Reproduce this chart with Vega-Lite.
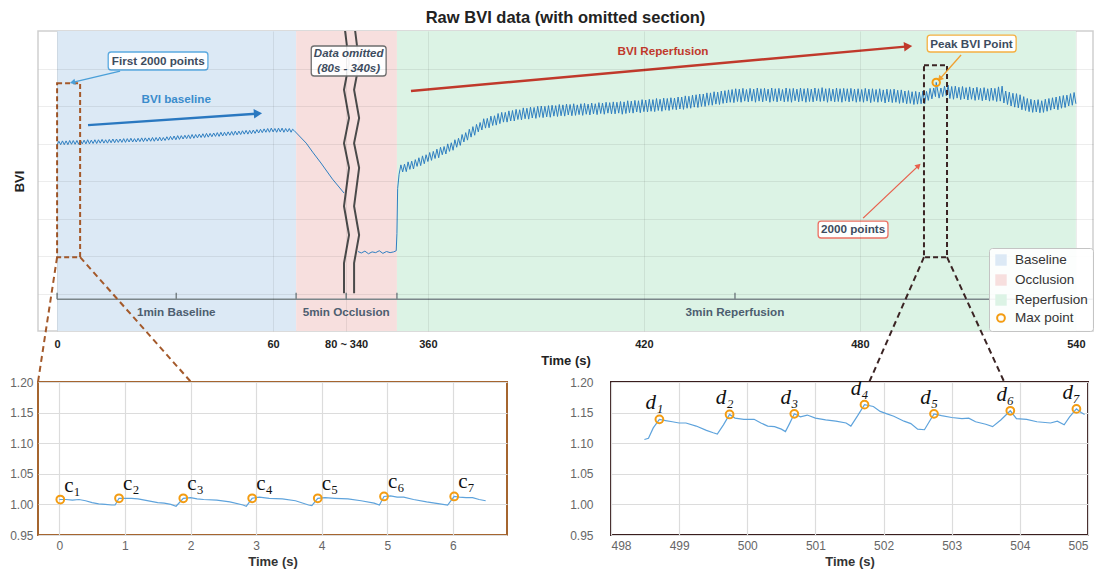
{
"$schema": "https://vega.github.io/schema/vega-lite/v6.json",
"padding": {"left": 8, "top": 8, "right": 4, "bottom": 2},
"config": {"font": "Liberation Sans", "view": {"stroke": null}},
"bounds": "flush",
"spacing": 51,
"resolve": {"scale": {"color": "independent", "stroke": "independent"}, "legend": {"color": "independent", "stroke": "independent"}},
"datasets": {
"regions": [{"cat":"Baseline","t":0,"t2":66.4},{"cat":"Occlusion","t":66.4,"t2":94.4},{"cat":"Reperfusion","t":94.4,"t2":283}],
"innerTicks": [{"t":0},{"t":33.1},{"t":66.4},{"t":80.3},{"t":94.4},{"t":188.3}],
"innerLabels": [{"t":33.1,"label":"1min Baseline"},{"t":80.3,"label":"5min Occlusion"},{"t":188.3,"label":"3min Reperfusion"}],
"segA": [
{"t":0,"v":0.996},{"t":0.5,"v":1.006},{"t":1,"v":0.997},{"t":1.5,"v":1.007},{"t":2,"v":0.997},{"t":2.5,"v":1.007},{"t":3,"v":0.997},{"t":3.5,"v":1.008},{"t":4,"v":0.998},{"t":4.5,"v":1.008},
{"t":5,"v":0.998},{"t":5.5,"v":1.008},{"t":6,"v":0.998},{"t":6.5,"v":1.009},{"t":7,"v":0.999},{"t":7.5,"v":1.009},{"t":8,"v":0.999},{"t":8.5,"v":1.010},{"t":9,"v":0.999},{"t":9.5,"v":1.009},
{"t":10,"v":1.000},{"t":10.5,"v":1.010},{"t":11,"v":1.000},{"t":11.5,"v":1.010},{"t":12,"v":1.001},{"t":12.5,"v":1.011},{"t":13,"v":1.001},{"t":13.5,"v":1.010},{"t":14,"v":1.001},{"t":14.5,"v":1.011},
{"t":15,"v":1.002},{"t":15.5,"v":1.012},{"t":16,"v":1.002},{"t":16.5,"v":1.012},{"t":17,"v":1.003},{"t":17.5,"v":1.012},{"t":18,"v":1.003},{"t":18.5,"v":1.013},{"t":19,"v":1.003},{"t":19.5,"v":1.013},
{"t":20,"v":1.004},{"t":20.5,"v":1.014},{"t":21,"v":1.004},{"t":21.5,"v":1.013},{"t":22,"v":1.004},{"t":22.5,"v":1.014},{"t":23,"v":1.005},{"t":23.5,"v":1.015},{"t":24,"v":1.005},{"t":24.5,"v":1.015},
{"t":25,"v":1.006},{"t":25.5,"v":1.015},{"t":26,"v":1.006},{"t":26.5,"v":1.016},{"t":27,"v":1.006},{"t":27.5,"v":1.016},{"t":28,"v":1.007},{"t":28.5,"v":1.017},{"t":29,"v":1.007},{"t":29.5,"v":1.016},
{"t":30,"v":1.008},{"t":30.5,"v":1.018},{"t":31,"v":1.009},{"t":31.5,"v":1.019},{"t":32,"v":1.010},{"t":32.5,"v":1.020},{"t":33,"v":1.010},{"t":33.5,"v":1.021},{"t":34,"v":1.011},{"t":34.5,"v":1.021},
{"t":35,"v":1.012},{"t":35.5,"v":1.022},{"t":36,"v":1.013},{"t":36.5,"v":1.023},{"t":37,"v":1.013},{"t":37.5,"v":1.024},{"t":38,"v":1.014},{"t":38.5,"v":1.024},{"t":39,"v":1.015},{"t":39.5,"v":1.025},
{"t":40,"v":1.016},{"t":40.5,"v":1.026},{"t":41,"v":1.016},{"t":41.5,"v":1.027},{"t":42,"v":1.017},{"t":42.5,"v":1.027},{"t":43,"v":1.018},{"t":43.5,"v":1.028},{"t":44,"v":1.019},{"t":44.5,"v":1.029},
{"t":45,"v":1.019},{"t":45.5,"v":1.030},{"t":46,"v":1.020},{"t":46.5,"v":1.030},{"t":47,"v":1.021},{"t":47.5,"v":1.031},{"t":48,"v":1.022},{"t":48.5,"v":1.032},{"t":49,"v":1.022},{"t":49.5,"v":1.033},
{"t":50,"v":1.023},{"t":50.5,"v":1.033},{"t":51,"v":1.024},{"t":51.5,"v":1.034},{"t":52,"v":1.025},{"t":52.5,"v":1.035},{"t":53,"v":1.025},{"t":53.5,"v":1.035},{"t":54,"v":1.026},{"t":54.5,"v":1.036},
{"t":55,"v":1.027},{"t":55.5,"v":1.037},{"t":56,"v":1.028},{"t":56.5,"v":1.038},{"t":57,"v":1.029},{"t":57.5,"v":1.039},{"t":58,"v":1.030},{"t":58.5,"v":1.040},{"t":59,"v":1.030},{"t":59.5,"v":1.041},
{"t":60,"v":1.031},{"t":60.5,"v":1.040},{"t":61,"v":1.030},{"t":61.5,"v":1.041},{"t":62,"v":1.031},{"t":62.5,"v":1.041},{"t":63,"v":1.030},{"t":63.5,"v":1.040},{"t":64,"v":1.031},{"t":64.5,"v":1.040},
{"t":65,"v":1.030},{"t":65.4,"v":1.038},{"t":65.8,"v":1.035},{"t":69.2,"v":1.001},{"t":71,"v":0.977},{"t":73.3,"v":0.948},{"t":76.5,"v":0.905},{"t":79.7,"v":0.868}
],
"segB": [
{"t":83.6,"v":0.712},{"t":84.5,"v":0.708},{"t":85.5,"v":0.713},{"t":86.5,"v":0.706},{"t":87.5,"v":0.711},{"t":88.5,"v":0.709},{"t":89.5,"v":0.714},{"t":90.5,"v":0.707},{"t":91.5,"v":0.712},{"t":92.5,"v":0.709},{"t":93.5,"v":0.711},{"t":94.2,"v":0.714},{"t":94.4,"v":0.76},{"t":94.6,"v":0.88},
{"t":95,"v":0.918},{"t":95.5,"v":0.943},{"t":96,"v":0.924},{"t":96.5,"v":0.945},{"t":97,"v":0.925},{"t":97.5,"v":0.951},{"t":98,"v":0.931},{"t":98.5,"v":0.953},{"t":99,"v":0.932},{"t":99.5,"v":0.957},
{"t":100,"v":0.939},{"t":100.5,"v":0.962},{"t":101,"v":0.941},{"t":101.5,"v":0.967},{"t":102,"v":0.946},{"t":102.5,"v":0.970},{"t":103,"v":0.952},{"t":103.5,"v":0.976},{"t":104,"v":0.955},{"t":104.5,"v":0.979},
{"t":105,"v":0.960},{"t":105.5,"v":0.985},{"t":106,"v":0.962},{"t":106.5,"v":0.990},{"t":107,"v":0.970},{"t":107.5,"v":0.992},{"t":108,"v":0.972},{"t":108.5,"v":0.999},{"t":109,"v":0.979},{"t":109.5,"v":1.002},
{"t":110,"v":0.982},{"t":110.5,"v":1.010},{"t":111,"v":0.990},{"t":111.5,"v":1.014},{"t":112,"v":0.995},{"t":112.5,"v":1.024},{"t":113,"v":1.004},{"t":113.5,"v":1.029},{"t":114,"v":1.009},{"t":114.5,"v":1.038},
{"t":115,"v":1.017},{"t":115.5,"v":1.045},{"t":116,"v":1.022},{"t":116.5,"v":1.051},{"t":117,"v":1.031},{"t":117.5,"v":1.056},{"t":118,"v":1.036},{"t":118.5,"v":1.066},{"t":119,"v":1.041},{"t":119.5,"v":1.067},
{"t":120,"v":1.042},{"t":120.5,"v":1.073},{"t":121,"v":1.048},{"t":121.5,"v":1.074},{"t":122,"v":1.049},{"t":122.5,"v":1.080},{"t":123,"v":1.053},{"t":123.5,"v":1.083},{"t":124,"v":1.057},{"t":124.5,"v":1.083},
{"t":125,"v":1.057},{"t":125.5,"v":1.087},{"t":126,"v":1.060},{"t":126.5,"v":1.088},{"t":127,"v":1.060},{"t":127.5,"v":1.091},{"t":128,"v":1.064},{"t":128.5,"v":1.090},{"t":129,"v":1.063},{"t":129.5,"v":1.095},
{"t":130,"v":1.066},{"t":130.5,"v":1.094},{"t":131,"v":1.065},{"t":131.5,"v":1.097},{"t":132,"v":1.068},{"t":132.5,"v":1.096},{"t":133,"v":1.067},{"t":133.5,"v":1.099},{"t":134,"v":1.070},{"t":134.5,"v":1.100},
{"t":135,"v":1.069},{"t":135.5,"v":1.099},{"t":136,"v":1.071},{"t":136.5,"v":1.101},{"t":137,"v":1.070},{"t":137.5,"v":1.102},{"t":138,"v":1.073},{"t":138.5,"v":1.101},{"t":139,"v":1.072},{"t":139.5,"v":1.104},
{"t":140,"v":1.074},{"t":140.5,"v":1.103},{"t":141,"v":1.073},{"t":141.5,"v":1.105},{"t":142,"v":1.076},{"t":142.5,"v":1.104},{"t":143,"v":1.074},{"t":143.5,"v":1.106},{"t":144,"v":1.075},{"t":144.5,"v":1.103},
{"t":145,"v":1.077},{"t":145.5,"v":1.106},{"t":146,"v":1.075},{"t":146.5,"v":1.107},{"t":147,"v":1.078},{"t":147.5,"v":1.105},{"t":148,"v":1.076},{"t":148.5,"v":1.108},{"t":149,"v":1.079},{"t":149.5,"v":1.106},
{"t":150,"v":1.077},{"t":150.5,"v":1.109},{"t":151,"v":1.080},{"t":151.5,"v":1.108},{"t":152,"v":1.078},{"t":152.5,"v":1.110},{"t":153,"v":1.081},{"t":153.5,"v":1.109},{"t":154,"v":1.079},{"t":154.5,"v":1.111},
{"t":155,"v":1.079},{"t":155.5,"v":1.110},{"t":156,"v":1.081},{"t":156.5,"v":1.112},{"t":157,"v":1.078},{"t":157.5,"v":1.111},{"t":158,"v":1.080},{"t":158.5,"v":1.114},{"t":159,"v":1.082},{"t":159.5,"v":1.113},
{"t":160,"v":1.081},{"t":160.5,"v":1.115},{"t":161,"v":1.084},{"t":161.5,"v":1.114},{"t":162,"v":1.082},{"t":162.5,"v":1.117},{"t":163,"v":1.085},{"t":163.5,"v":1.116},{"t":164,"v":1.084},{"t":164.5,"v":1.118},
{"t":165,"v":1.086},{"t":165.5,"v":1.117},{"t":166,"v":1.085},{"t":166.5,"v":1.120},{"t":167,"v":1.088},{"t":167.5,"v":1.118},{"t":168,"v":1.086},{"t":168.5,"v":1.121},{"t":169,"v":1.089},{"t":169.5,"v":1.120},
{"t":170,"v":1.088},{"t":170.5,"v":1.122},{"t":171,"v":1.091},{"t":171.5,"v":1.121},{"t":172,"v":1.090},{"t":172.5,"v":1.124},{"t":173,"v":1.092},{"t":173.5,"v":1.124},{"t":174,"v":1.091},{"t":174.5,"v":1.127},
{"t":175,"v":1.094},{"t":175.5,"v":1.126},{"t":176,"v":1.094},{"t":176.5,"v":1.129},{"t":177,"v":1.097},{"t":177.5,"v":1.130},{"t":178,"v":1.096},{"t":178.5,"v":1.132},{"t":179,"v":1.099},{"t":179.5,"v":1.132},
{"t":180,"v":1.099},{"t":180.5,"v":1.135},{"t":181,"v":1.102},{"t":181.5,"v":1.135},{"t":182,"v":1.102},{"t":182.5,"v":1.138},{"t":183,"v":1.105},{"t":183.5,"v":1.137},{"t":184,"v":1.104},{"t":184.5,"v":1.140},
{"t":185,"v":1.107},{"t":185.5,"v":1.141},{"t":186,"v":1.108},{"t":186.5,"v":1.143},{"t":187,"v":1.110},{"t":187.5,"v":1.144},{"t":188,"v":1.109},{"t":188.5,"v":1.146},{"t":189,"v":1.112},{"t":189.5,"v":1.145},
{"t":190,"v":1.110},{"t":190.5,"v":1.147},{"t":191,"v":1.113},{"t":191.5,"v":1.144},{"t":192,"v":1.111},{"t":192.5,"v":1.147},{"t":193,"v":1.113},{"t":193.5,"v":1.145},{"t":194,"v":1.110},{"t":194.5,"v":1.148},
{"t":195,"v":1.113},{"t":195.5,"v":1.146},{"t":196,"v":1.111},{"t":196.5,"v":1.147},{"t":197,"v":1.114},{"t":197.5,"v":1.145},{"t":198,"v":1.110},{"t":198.5,"v":1.148},{"t":199,"v":1.113},{"t":199.5,"v":1.146},
{"t":200,"v":1.111},{"t":200.5,"v":1.147},{"t":201,"v":1.114},{"t":201.5,"v":1.144},{"t":202,"v":1.111},{"t":202.5,"v":1.148},{"t":203,"v":1.112},{"t":203.5,"v":1.146},{"t":204,"v":1.110},{"t":204.5,"v":1.147},
{"t":205,"v":1.114},{"t":205.5,"v":1.145},{"t":206,"v":1.111},{"t":206.5,"v":1.148},{"t":207,"v":1.113},{"t":207.5,"v":1.146},{"t":208,"v":1.110},{"t":208.5,"v":1.147},{"t":209,"v":1.112},{"t":209.5,"v":1.145},
{"t":210,"v":1.111},{"t":210.5,"v":1.148},{"t":211,"v":1.114},{"t":211.5,"v":1.146},{"t":212,"v":1.112},{"t":212.5,"v":1.149},{"t":213,"v":1.113},{"t":213.5,"v":1.146},{"t":214,"v":1.110},{"t":214.5,"v":1.147},
{"t":215,"v":1.113},{"t":215.5,"v":1.145},{"t":216,"v":1.111},{"t":216.5,"v":1.148},{"t":217,"v":1.112},{"t":217.5,"v":1.146},{"t":218,"v":1.110},{"t":218.5,"v":1.147},{"t":219,"v":1.113},{"t":219.5,"v":1.146},
{"t":220,"v":1.111},{"t":220.5,"v":1.147},{"t":221,"v":1.113},{"t":221.5,"v":1.145},{"t":222,"v":1.110},{"t":222.5,"v":1.146},{"t":223,"v":1.112},{"t":223.5,"v":1.144},{"t":224,"v":1.110},{"t":224.5,"v":1.147},
{"t":225,"v":1.113},{"t":225.5,"v":1.145},{"t":226,"v":1.109},{"t":226.5,"v":1.146},{"t":227,"v":1.112},{"t":227.5,"v":1.144},{"t":228,"v":1.110},{"t":228.5,"v":1.146},{"t":229,"v":1.112},{"t":229.5,"v":1.143},
{"t":230,"v":1.108},{"t":230.5,"v":1.145},{"t":231,"v":1.111},{"t":231.5,"v":1.144},{"t":232,"v":1.109},{"t":232.5,"v":1.145},{"t":233,"v":1.110},{"t":233.5,"v":1.142},{"t":234,"v":1.107},{"t":234.5,"v":1.143},
{"t":235,"v":1.109},{"t":235.5,"v":1.140},{"t":236,"v":1.106},{"t":236.5,"v":1.141},{"t":237,"v":1.107},{"t":237.5,"v":1.138},{"t":238,"v":1.104},{"t":238.5,"v":1.139},{"t":239,"v":1.105},{"t":239.5,"v":1.137},
{"t":240,"v":1.106},{"t":240.5,"v":1.140},{"t":241,"v":1.106},{"t":241.5,"v":1.139},{"t":242,"v":1.115},{"t":242.5,"v":1.147},{"t":243,"v":1.119},{"t":243.5,"v":1.148},{"t":244,"v":1.125},{"t":244.2,"v":1.163},
{"t":245,"v":1.121},{"t":245.5,"v":1.148},{"t":246,"v":1.125},{"t":246.5,"v":1.153},{"t":247,"v":1.127},{"t":247.5,"v":1.156},{"t":248,"v":1.120},{"t":248.5,"v":1.152},{"t":249,"v":1.118},{"t":249.5,"v":1.153},
{"t":250,"v":1.121},{"t":250.5,"v":1.150},{"t":251,"v":1.117},{"t":251.5,"v":1.152},{"t":252,"v":1.119},{"t":252.5,"v":1.149},{"t":253,"v":1.116},{"t":253.5,"v":1.151},{"t":254,"v":1.118},{"t":254.5,"v":1.148},
{"t":255,"v":1.115},{"t":255.5,"v":1.150},{"t":256,"v":1.117},{"t":256.5,"v":1.147},{"t":257,"v":1.114},{"t":257.5,"v":1.149},{"t":258,"v":1.116},{"t":258.5,"v":1.146},{"t":259,"v":1.113},{"t":259.5,"v":1.148},
{"t":260,"v":1.115},{"t":260.5,"v":1.147},{"t":261,"v":1.112},{"t":261.5,"v":1.151},{"t":262,"v":1.113},{"t":262.5,"v":1.153},{"t":263,"v":1.108},{"t":263.5,"v":1.140},{"t":264,"v":1.104},{"t":264.5,"v":1.137},
{"t":265,"v":1.100},{"t":265.5,"v":1.134},{"t":266,"v":1.097},{"t":266.5,"v":1.133},{"t":267,"v":1.095},{"t":267.5,"v":1.130},{"t":268,"v":1.090},{"t":268.5,"v":1.125},{"t":269,"v":1.088},{"t":269.5,"v":1.120},
{"t":270,"v":1.085},{"t":270.5,"v":1.118},{"t":271,"v":1.083},{"t":271.5,"v":1.116},{"t":272,"v":1.084},{"t":272.5,"v":1.117},{"t":273,"v":1.082},{"t":273.5,"v":1.114},{"t":274,"v":1.083},{"t":274.5,"v":1.118},
{"t":275,"v":1.086},{"t":275.5,"v":1.120},{"t":276,"v":1.089},{"t":276.5,"v":1.122},{"t":277,"v":1.092},{"t":277.5,"v":1.124},{"t":278,"v":1.090},{"t":278.5,"v":1.126},{"t":279,"v":1.094},{"t":279.5,"v":1.128},
{"t":280,"v":1.096},{"t":280.5,"v":1.129},{"t":281,"v":1.100},{"t":281.5,"v":1.133},{"t":282,"v":1.102},{"t":282.5,"v":1.136},{"t":283,"v":1.106}
],
"breaks": [
{"k":"L","i":0,"t":80.0,"v":1.3},{"k":"L","i":1,"t":81.1,"v":1.215},{"k":"L","i":2,"t":79.7,"v":1.143},{"k":"L","i":3,"t":81.1,"v":1.068},{"k":"L","i":4,"t":79.7,"v":1.001},{"k":"L","i":5,"t":81.1,"v":0.935},{"k":"L","i":6,"t":79.7,"v":0.833},{"k":"L","i":7,"t":81.1,"v":0.756},{"k":"L","i":8,"t":79.7,"v":0.681},{"k":"L","i":9,"t":79.7,"v":0.601},
{"k":"R","i":0,"t":82.8,"v":1.3},{"k":"R","i":1,"t":83.9,"v":1.215},{"k":"R","i":2,"t":82.5,"v":1.143},{"k":"R","i":3,"t":83.9,"v":1.068},{"k":"R","i":4,"t":82.5,"v":1.001},{"k":"R","i":5,"t":83.9,"v":0.935},{"k":"R","i":6,"t":82.5,"v":0.833},{"k":"R","i":7,"t":83.9,"v":0.756},{"k":"R","i":8,"t":82.5,"v":0.681},{"k":"R","i":9,"t":82.5,"v":0.601}
],
"boxes": [
{"box":"first","t":14.2,"t2":41.9,"v":1.196,"v2":1.244},
{"box":"omit","t":70.6,"t2":91.4,"v":1.18,"v2":1.26},
{"box":"peak","t":241.7,"t2":266.4,"v":1.244,"v2":1.289},
{"box":"pts","t":211.4,"t2":230.8,"v":0.748,"v2":0.793}
],
"boxText": [{"t":28.1,"v":1.22,"label":"First 2000 points"},{"t":254.0,"v":1.266,"label":"Peak BVI Point"},{"t":221.1,"v":0.771,"label":"2000 points"}],
"omitText": [{"t":81,"v":1.239,"label":"Data omitted"},{"t":81,"v":1.2,"label":"(80s - 340s)"}],
"detC": [
{"t":0.0,"v":1.008},{"t":0.1,"v":1.008},{"t":0.2,"v":1.007},{"t":0.3,"v":1.008},{"t":0.4,"v":1.006},{"t":0.5,"v":1.003},{"t":0.6,"v":1.001},{"t":0.7,"v":1.000},{"t":0.8,"v":0.999},{"t":0.85,"v":0.999},
{"t":0.91,"v":1.010},{"t":1.0,"v":1.010},{"t":1.1,"v":1.010},{"t":1.2,"v":1.009},{"t":1.3,"v":1.007},{"t":1.4,"v":1.005},{"t":1.5,"v":1.003},{"t":1.6,"v":1.002},{"t":1.7,"v":1.000},{"t":1.78,"v":0.997},
{"t":1.89,"v":1.010},{"t":2.0,"v":1.011},{"t":2.1,"v":1.009},{"t":2.2,"v":1.008},{"t":2.4,"v":1.007},{"t":2.6,"v":1.004},{"t":2.8,"v":0.999},{"t":2.85,"v":0.997},
{"t":2.94,"v":1.010},{"t":3.05,"v":1.012},{"t":3.2,"v":1.010},{"t":3.4,"v":1.009},{"t":3.6,"v":1.006},{"t":3.8,"v":0.999},{"t":3.85,"v":0.998},
{"t":3.94,"v":1.010},{"t":4.05,"v":1.011},{"t":4.2,"v":1.010},{"t":4.4,"v":1.009},{"t":4.6,"v":1.006},{"t":4.8,"v":1.002},{"t":4.88,"v":0.999},
{"t":4.95,"v":1.013},{"t":5.05,"v":1.014},{"t":5.15,"v":1.012},{"t":5.25,"v":1.012},{"t":5.4,"v":1.008},{"t":5.6,"v":1.004},{"t":5.8,"v":1.001},{"t":5.92,"v":0.999},
{"t":6.02,"v":1.013},{"t":6.1,"v":1.012},{"t":6.2,"v":1.011},{"t":6.3,"v":1.011},{"t":6.4,"v":1.008},{"t":6.5,"v":1.006}
],
"peaksC": [{"t":0.015,"v":1.008,"lab":"c₁"},{"t":0.91,"v":1.010,"lab":"c₂"},{"t":1.89,"v":1.010,"lab":"c₃"},{"t":2.94,"v":1.010,"lab":"c₄"},{"t":3.94,"v":1.010,"lab":"c₅"},{"t":4.95,"v":1.013,"lab":"c₆"},{"t":6.02,"v":1.013,"lab":"c₇"}],
"detD": [
{"t":498.49,"v":1.106},{"t":498.55,"v":1.108},{"t":498.62,"v":1.125},{"t":498.71,"v":1.139},{"t":498.8,"v":1.137},{"t":498.9,"v":1.135},{"t":499.0,"v":1.133},{"t":499.1,"v":1.133},{"t":499.25,"v":1.128},{"t":499.4,"v":1.121},{"t":499.5,"v":1.117},{"t":499.56,"v":1.115},
{"t":499.65,"v":1.13},{"t":499.74,"v":1.147},{"t":499.82,"v":1.141},{"t":499.95,"v":1.139},{"t":500.1,"v":1.139},{"t":500.2,"v":1.133},{"t":500.3,"v":1.128},{"t":500.4,"v":1.127},{"t":500.5,"v":1.123},{"t":500.56,"v":1.119},
{"t":500.62,"v":1.132},{"t":500.69,"v":1.148},{"t":500.78,"v":1.143},{"t":500.88,"v":1.146},{"t":501.0,"v":1.141},{"t":501.15,"v":1.138},{"t":501.3,"v":1.136},{"t":501.45,"v":1.133},{"t":501.52,"v":1.128},
{"t":501.62,"v":1.145},{"t":501.72,"v":1.163},{"t":501.85,"v":1.160},{"t":501.95,"v":1.152},{"t":502.05,"v":1.148},{"t":502.15,"v":1.144},{"t":502.3,"v":1.136},{"t":502.4,"v":1.132},{"t":502.5,"v":1.123},{"t":502.6,"v":1.122},
{"t":502.67,"v":1.135},{"t":502.74,"v":1.148},{"t":502.85,"v":1.145},{"t":503.0,"v":1.142},{"t":503.15,"v":1.140},{"t":503.25,"v":1.141},{"t":503.35,"v":1.135},{"t":503.5,"v":1.131},{"t":503.6,"v":1.127},
{"t":503.72,"v":1.138},{"t":503.86,"v":1.153},{"t":503.95,"v":1.140},{"t":504.1,"v":1.139},{"t":504.25,"v":1.135},{"t":504.45,"v":1.133},{"t":504.55,"v":1.136},{"t":504.65,"v":1.130},
{"t":504.73,"v":1.143},{"t":504.83,"v":1.156},{"t":504.9,"v":1.150},{"t":504.95,"v":1.147}
],
"peaksD": [{"t":498.71,"v":1.139,"lab":"d₁"},{"t":499.74,"v":1.147,"lab":"d₂"},{"t":500.69,"v":1.148,"lab":"d₃"},{"t":501.72,"v":1.163,"lab":"d₄"},{"t":502.74,"v":1.148,"lab":"d₅"},{"t":503.86,"v":1.153,"lab":"d₆"},{"t":504.83,"v":1.156,"lab":"d₇"}]
},
"vconcat": [
{
"width": 1055, "height": 300,
"title": {"text": "Raw BVI data (with omitted section)", "fontSize": 16.5, "fontWeight": "bold", "color": "#222", "offset": 1, "anchor": "middle", "font": "Liberation Sans"},
"view": {"stroke": "#cfcfcf", "strokeWidth": 1.5},
"layer": [
{"data": {"name": "regions"}, "mark": {"type": "rect"},
 "encoding": {
  "x": {"field": "t", "type": "quantitative", "scale": {"domain": [-5.3, 287.75], "nice": false, "zero": false},
   "axis": {"title": "Time (s)", "values": [0, 60, 80.3, 103, 163, 223, 283], "labelExpr": "datum.value < 70 ? format(datum.value, 'd') : datum.value < 90 ? '80 ~ 340' : format(datum.value + 257, 'd')", "ticks": false, "domain": false, "labelFontWeight": "bold", "labelFontSize": 11, "labelColor": "#222", "labelPadding": 7, "labelOverlap": false, "titleFontSize": 13, "titleFontWeight": "bold", "titleColor": "#222", "titlePadding": 5, "grid": true, "gridColor": "#000", "gridOpacity": 0.07, "zindex": 1}},
  "x2": {"field": "t2"},
  "color": {"field": "cat", "type": "nominal",
   "scale": {"domain": ["Baseline", "Occlusion", "Reperfusion", "Max point"], "range": ["#dce9f5", "#f7dfde", "#dcf3e5", "#f39c12"]},
   "legend": {"orient": "bottom-right", "offset": 0, "title": null, "labelFontSize": 13.5, "labelColor": "#333", "labelFont": "Liberation Sans", "symbolType": "square", "symbolSize": 130, "fillColor": "rgba(255,255,255,0.9)", "strokeColor": "#c4c4c4", "cornerRadius": 3, "padding": 5, "rowPadding": 0, "labelOffset": 7, "zindex": 2,
    "encode": {"symbols": {"update": {
      "shape": {"signal": "datum.value === 'Max point' ? 'circle' : 'square'"},
      "size": {"signal": "datum.value === 'Max point' ? 60 : 130"},
      "fillOpacity": {"signal": "datum.value === 'Max point' ? 0 : 1"},
      "stroke": {"signal": "datum.value === 'Max point' ? '#f39c12' : 'transparent'"},
      "strokeWidth": {"value": 2},
      "opacity": {"value": 1}}}}}}
 }},
{"data": {"values": [{}]}, "mark": {"type": "rule", "color": "#7b868a", "strokeWidth": 1.5},
 "encoding": {"x": {"datum": 0, "type": "quantitative"}, "x2": {"datum": 287.75}, "y": {"datum": 0.585, "type": "quantitative"}}},
{"data": {"name": "innerTicks"}, "mark": {"type": "rule", "color": "#7b868a", "strokeWidth": 1.5},
 "encoding": {"x": {"field": "t", "type": "quantitative"}, "y": {"datum": 0.585, "type": "quantitative"}, "y2": {"datum": 0.602}}},
{"data": {"name": "innerLabels"}, "mark": {"type": "text", "fontWeight": "bold", "fontSize": 11.7, "color": "#4d5e70", "baseline": "middle"},
 "encoding": {"x": {"field": "t", "type": "quantitative"}, "y": {"datum": 0.551, "type": "quantitative"}, "text": {"field": "label"}}},
{"data": {"name": "segA"}, "mark": {"type": "line", "color": "#2f7fc1", "strokeWidth": 1},
 "encoding": {"x": {"field": "t", "type": "quantitative"},
  "y": {"field": "v", "type": "quantitative", "scale": {"domain": [0.5, 1.3], "nice": false, "zero": false},
   "axis": {"title": "BVI", "values": [0.6, 0.7, 0.8, 0.9, 1.0, 1.1, 1.2], "tickCount": 20, "labels": false, "ticks": false, "domain": false, "minExtent": 0, "maxExtent": 0, "titleFontSize": 13, "titleFontWeight": "bold", "titleColor": "#222", "titlePadding": 12, "grid": true, "gridColor": "#000", "gridOpacity": 0.07, "zindex": 1}}}},
{"data": {"name": "segB"}, "mark": {"type": "line", "color": "#2f7fc1", "strokeWidth": 1},
 "encoding": {"x": {"field": "t", "type": "quantitative"}, "y": {"field": "v", "type": "quantitative"}}},
{"data": {"name": "breaks"}, "mark": {"type": "line", "color": "#4a4a4a", "strokeWidth": 2},
 "encoding": {"x": {"field": "t", "type": "quantitative"}, "y": {"field": "v", "type": "quantitative"}, "detail": {"field": "k"}, "order": {"field": "i"}}},
{"data": {"values": [{"t": 0, "t2": 6.4, "v": 0.697, "v2": 1.161}]}, "mark": {"type": "rect", "fillOpacity": 0, "stroke": "#a4592a", "strokeWidth": 2, "strokeDash": [5, 3]},
 "encoding": {"x": {"field": "t", "type": "quantitative"}, "x2": {"field": "t2"}, "y": {"field": "v", "type": "quantitative"}, "y2": {"field": "v2"}}},
{"data": {"values": [{"t": 240.8, "t2": 247.2, "v": 0.697, "v2": 1.209}]}, "mark": {"type": "rect", "fillOpacity": 0, "stroke": "#3b2424", "strokeWidth": 2, "strokeDash": [5, 3]},
 "encoding": {"x": {"field": "t", "type": "quantitative"}, "x2": {"field": "t2"}, "y": {"field": "v", "type": "quantitative"}, "y2": {"field": "v2"}}},
{"data": {"values": [{"t": 0, "v": 0.697, "t2": -5.3, "v2": 0.364}, {"t": 6.4, "v": 0.697, "t2": 37.2, "v2": 0.364}]}, "mark": {"type": "rule", "color": "#a4592a", "strokeWidth": 2, "strokeDash": [6, 4]},
 "encoding": {"x": {"field": "t", "type": "quantitative"}, "x2": {"field": "t2"}, "y": {"field": "v", "type": "quantitative"}, "y2": {"field": "v2"}}},
{"data": {"values": [{"t": 240.8, "v": 0.697, "t2": 225.6, "v2": 0.364}, {"t": 247.2, "v": 0.697, "t2": 263.1, "v2": 0.364}]}, "mark": {"type": "rule", "color": "#3b2424", "strokeWidth": 2, "strokeDash": [6, 4]},
 "encoding": {"x": {"field": "t", "type": "quantitative"}, "x2": {"field": "t2"}, "y": {"field": "v", "type": "quantitative"}, "y2": {"field": "v2"}}},
{"data": {"values": [{"t": 17.5, "v": 1.193, "t2": 4.3, "v2": 1.163}]}, "mark": {"type": "rule", "color": "#4a9fd8", "strokeWidth": 1.3},
 "encoding": {"x": {"field": "t", "type": "quantitative"}, "x2": {"field": "t2"}, "y": {"field": "v", "type": "quantitative"}, "y2": {"field": "v2"}}},
{"data": {"values": [{"t": 17.5, "v": 1.193, "t2": 4.3, "v2": 1.163}]}, "mark": {"type": "point", "shape": "triangle-right", "angle": 166, "size": 40, "filled": true, "color": "#4a9fd8", "opacity": 1},
 "encoding": {"x": {"field": "t2", "type": "quantitative"}, "y": {"field": "v2", "type": "quantitative"}}},
{"data": {"values": [{"t": 8.6, "v": 1.049, "t2": 55.8, "v2": 1.080}]}, "mark": {"type": "rule", "color": "#2a78c0", "strokeWidth": 2.5},
 "encoding": {"x": {"field": "t", "type": "quantitative"}, "x2": {"field": "t2"}, "y": {"field": "v", "type": "quantitative"}, "y2": {"field": "v2"}}},
{"data": {"values": [{"t": 8.6, "v": 1.049, "t2": 55.8, "v2": 1.080}]}, "mark": {"type": "point", "shape": "triangle-right", "angle": -4, "size": 90, "filled": true, "color": "#2a78c0", "opacity": 1},
 "encoding": {"x": {"field": "t2", "type": "quantitative"}, "y": {"field": "v2", "type": "quantitative"}}},
{"data": {"values": [{"t": 98.3, "v": 1.140, "t2": 236.4, "v2": 1.259}]}, "mark": {"type": "rule", "color": "#c0392b", "strokeWidth": 2.5},
 "encoding": {"x": {"field": "t", "type": "quantitative"}, "x2": {"field": "t2"}, "y": {"field": "v", "type": "quantitative"}, "y2": {"field": "v2"}}},
{"data": {"values": [{"t": 98.3, "v": 1.140, "t2": 236.4, "v2": 1.259}]}, "mark": {"type": "point", "shape": "triangle-right", "angle": -5, "size": 90, "filled": true, "color": "#c0392b", "opacity": 1},
 "encoding": {"x": {"field": "t2", "type": "quantitative"}, "y": {"field": "v2", "type": "quantitative"}}},
{"data": {"values": [{"t": 251.1, "v": 1.236, "t2": 245.2, "v2": 1.172}]}, "mark": {"type": "rule", "color": "#f0a030", "strokeWidth": 1.3},
 "encoding": {"x": {"field": "t", "type": "quantitative"}, "x2": {"field": "t2"}, "y": {"field": "v", "type": "quantitative"}, "y2": {"field": "v2"}}},
{"data": {"values": [{"t": 251.1, "v": 1.236, "t2": 245.2, "v2": 1.172}]}, "mark": {"type": "point", "shape": "triangle-right", "angle": 131, "size": 40, "filled": true, "color": "#f0a030", "opacity": 1},
 "encoding": {"x": {"field": "t2", "type": "quantitative"}, "y": {"field": "v2", "type": "quantitative"}}},
{"data": {"values": [{"t": 223.9, "v": 0.801, "t2": 239.3, "v2": 0.941}]}, "mark": {"type": "rule", "color": "#e8604c", "strokeWidth": 1.3},
 "encoding": {"x": {"field": "t", "type": "quantitative"}, "x2": {"field": "t2"}, "y": {"field": "v", "type": "quantitative"}, "y2": {"field": "v2"}}},
{"data": {"values": [{"t": 223.9, "v": 0.801, "t2": 239.3, "v2": 0.941}]}, "mark": {"type": "point", "shape": "triangle-right", "angle": -43, "size": 40, "filled": true, "color": "#e8604c", "opacity": 1},
 "encoding": {"x": {"field": "t2", "type": "quantitative"}, "y": {"field": "v2", "type": "quantitative"}}},
{"data": {"name": "boxes"}, "mark": {"type": "rect", "fill": "#ffffff", "fillOpacity": 0.95, "strokeWidth": 1.3, "cornerRadius": 3},
 "encoding": {"x": {"field": "t", "type": "quantitative"}, "x2": {"field": "t2"}, "y": {"field": "v", "type": "quantitative"}, "y2": {"field": "v2"},
  "stroke": {"field": "box", "type": "nominal", "scale": {"domain": ["first", "omit", "peak", "pts"], "range": ["#5aa9e0", "#6e6e6e", "#f5b041", "#ec7063"]}, "legend": null}}},
{"data": {"name": "boxText"}, "mark": {"type": "text", "fontWeight": "bold", "fontSize": 11.7, "color": "#3d4c5e", "baseline": "middle"},
 "encoding": {"x": {"field": "t", "type": "quantitative"}, "y": {"field": "v", "type": "quantitative"}, "text": {"field": "label"}}},
{"data": {"name": "omitText"}, "mark": {"type": "text", "fontWeight": "bold", "fontStyle": "italic", "fontSize": 11.5, "color": "#3d4c5e", "baseline": "middle"},
 "encoding": {"x": {"field": "t", "type": "quantitative"}, "y": {"field": "v", "type": "quantitative"}, "text": {"field": "label"}}},
{"data": {"values": [{"t": 33.1, "v": 1.119, "label": "BVI baseline"}]}, "mark": {"type": "text", "fontWeight": "bold", "fontSize": 11.7, "color": "#3a8ccc", "baseline": "middle"},
 "encoding": {"x": {"field": "t", "type": "quantitative"}, "y": {"field": "v", "type": "quantitative"}, "text": {"field": "label"}}},
{"data": {"values": [{"t": 168.3, "v": 1.247, "label": "BVI Reperfusion"}]}, "mark": {"type": "text", "fontWeight": "bold", "fontSize": 11.7, "color": "#c0392b", "baseline": "middle"},
 "encoding": {"x": {"field": "t", "type": "quantitative"}, "y": {"field": "v", "type": "quantitative"}, "text": {"field": "label"}}},
{"data": {"values": [{"t": 244.2, "v": 1.163}]}, "mark": {"type": "point", "shape": "circle", "filled": false, "color": "#f39c12", "strokeWidth": 2, "size": 55, "opacity": 1},
 "encoding": {"x": {"field": "t", "type": "quantitative"}, "y": {"field": "v", "type": "quantitative"}}}
]
},
{
"hconcat": [
{
"width": 469, "height": 153,
"view": {"stroke": "#a5652f", "strokeWidth": 2},
"layer": [
{"data": {"name": "detC"}, "mark": {"type": "line", "color": "#5ea3dc", "strokeWidth": 1.2},
 "encoding": {
  "x": {"field": "t", "type": "quantitative", "scale": {"domain": [-0.325, 6.825], "nice": false, "zero": false},
   "axis": {"title": "Time (s)", "values": [0, 1, 2, 3, 4, 5, 6], "tickCount": 20, "format": "d", "ticks": false, "domain": false, "labelOverlap": false, "labelColor": "#666", "labelFontSize": 12, "labelPadding": 5, "titleFontSize": 13, "titleFontWeight": "bold", "titleColor": "#333", "titlePadding": 4, "gridColor": "#dcdcdc", "gridWidth": 1.2}},
  "y": {"field": "v", "type": "quantitative", "scale": {"domain": [0.95, 1.2], "nice": false, "zero": false},
   "axis": {"title": null, "values": [0.95, 1.0, 1.05, 1.1, 1.15, 1.2], "tickCount": 20, "format": ".2f", "ticks": false, "domain": false, "labelOverlap": false, "labelBound": false, "labelColor": "#666", "labelFontSize": 12, "labelPadding": 5, "gridColor": "#dcdcdc", "gridWidth": 1.2}}}},
{"data": {"name": "peaksC"}, "mark": {"type": "point", "shape": "circle", "filled": false, "color": "#f39c12", "strokeWidth": 2, "size": 60, "opacity": 1},
 "encoding": {"x": {"field": "t", "type": "quantitative"}, "y": {"field": "v", "type": "quantitative"}}},
{"data": {"name": "peaksC"}, "mark": {"type": "text", "font": "Liberation Serif", "fontSize": 21, "align": "left", "baseline": "alphabetic", "dx": 4, "dy": -8, "color": "#111"},
 "encoding": {"x": {"field": "t", "type": "quantitative"}, "y": {"field": "v", "type": "quantitative"}, "text": {"field": "lab"}}}
]
},
{
"width": 477, "height": 153,
"view": {"stroke": "#3a1e1e", "strokeWidth": 2},
"layer": [
{"data": {"name": "detD"}, "mark": {"type": "line", "color": "#5ea3dc", "strokeWidth": 1.2},
 "encoding": {
  "x": {"field": "t", "type": "quantitative", "scale": {"domain": [498, 505], "nice": false, "zero": false},
   "axis": {"title": "Time (s)", "values": [498, 499, 500, 501, 502, 503, 504, 505], "tickCount": 20, "format": "d", "ticks": false, "domain": false, "labelOverlap": false, "labelColor": "#666", "labelFontSize": 12, "labelPadding": 5, "titleFontSize": 13, "titleFontWeight": "bold", "titleColor": "#333", "titlePadding": 4, "gridColor": "#dcdcdc", "gridWidth": 1.2}},
  "y": {"field": "v", "type": "quantitative", "scale": {"domain": [0.95, 1.2], "nice": false, "zero": false},
   "axis": {"title": null, "values": [0.95, 1.0, 1.05, 1.1, 1.15, 1.2], "tickCount": 20, "format": ".2f", "ticks": false, "domain": false, "labelOverlap": false, "labelBound": false, "labelColor": "#666", "labelFontSize": 12, "labelPadding": 18, "gridColor": "#dcdcdc", "gridWidth": 1.2}}}},
{"data": {"name": "peaksD"}, "mark": {"type": "point", "shape": "circle", "filled": false, "color": "#f39c12", "strokeWidth": 2, "size": 60, "opacity": 1},
 "encoding": {"x": {"field": "t", "type": "quantitative"}, "y": {"field": "v", "type": "quantitative"}}},
{"data": {"name": "peaksD"}, "mark": {"type": "text", "font": "Liberation Serif", "fontStyle": "italic", "fontSize": 21, "align": "right", "baseline": "alphabetic", "dx": 4, "dy": -10, "color": "#111"},
 "encoding": {"x": {"field": "t", "type": "quantitative"}, "y": {"field": "v", "type": "quantitative"}, "text": {"field": "lab"}}}
]
}
],
"spacing": 104,
"bounds": "flush"
}
]
}
